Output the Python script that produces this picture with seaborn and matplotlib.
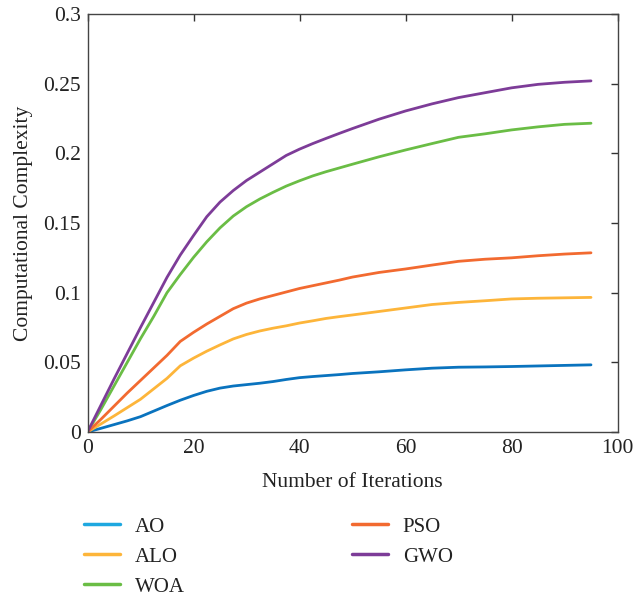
import numpy as np
import pandas as pd
import matplotlib
matplotlib.use("Agg")
import matplotlib.pyplot as plt
from matplotlib.ticker import FuncFormatter
import seaborn as sns

iterations = [0, 2.5, 5, 7.5, 10, 12.5, 15, 17.5, 20, 22.5, 25, 27.5, 30, 32.5, 35,
              37.5, 40, 42.5, 45, 47.5, 50, 55, 60, 65, 70, 75, 80, 85, 90, 95]

ao = [0, 0.0026, 0.0053, 0.008, 0.011, 0.015, 0.019, 0.0228, 0.0262, 0.0292,
      0.0315, 0.033, 0.034, 0.035, 0.0362, 0.0377, 0.039, 0.0398, 0.0405, 0.0412,
      0.042, 0.0432, 0.0446, 0.0458, 0.0465, 0.0467, 0.047, 0.0474, 0.0478, 0.0482]
alo = [0, 0.0057, 0.0115, 0.0175, 0.0235, 0.031, 0.0385, 0.0475, 0.053, 0.058,
       0.0625, 0.0668, 0.070, 0.0725, 0.0745, 0.0762, 0.0782, 0.0798, 0.0815, 0.0828,
       0.084, 0.0865, 0.089, 0.0915, 0.093, 0.0942, 0.0955, 0.096, 0.0963, 0.0966]
woa = [0, 0.016, 0.033, 0.050, 0.067, 0.083, 0.100, 0.113, 0.1253, 0.1365,
       0.1465, 0.155, 0.1617, 0.1672, 0.172, 0.1765, 0.1803, 0.1838, 0.1868, 0.1895,
       0.1922, 0.1975, 0.2024, 0.207, 0.2115, 0.214, 0.2168, 0.219, 0.2208, 0.2216]
pso = [0, 0.009, 0.0185, 0.028, 0.037, 0.046, 0.055, 0.065, 0.0715, 0.0775,
       0.083, 0.0885, 0.0925, 0.0955, 0.098, 0.1005, 0.103, 0.105, 0.107, 0.109,
       0.1112, 0.1145, 0.117, 0.1198, 0.1225, 0.124, 0.125, 0.1265, 0.1277, 0.1286]
gwo = [0, 0.019, 0.038, 0.0565, 0.075, 0.093, 0.111, 0.127, 0.141, 0.1545,
       0.165, 0.1733, 0.1805, 0.1865, 0.1925, 0.1985, 0.203, 0.207, 0.2107, 0.2143,
       0.2178, 0.2245, 0.2304, 0.2355, 0.240, 0.2435, 0.247, 0.2495, 0.251, 0.252]

algorithms = ["AO", "ALO", "WOA", "PSO", "GWO"]
series = [ao, alo, woa, pso, gwo]
colors = ["#0A73BE", "#FDB53A", "#6ABD45", "#F26A30", "#7D3C98"]
legend_colors = ["#1EA8E0", "#FDB53A", "#6ABD45", "#F26A30", "#7D3C98"]

df = pd.DataFrame({
    "Iteration": np.tile(iterations, len(algorithms)),
    "Complexity": np.concatenate(series),
    "Algorithm": np.repeat(algorithms, len(iterations)),
})

sns.set_style("white")
plt.rcParams["font.family"] = ["Liberation Serif", "DejaVu Serif"]

fig = plt.figure(figsize=(6.33, 5.97), dpi=100)
ax = fig.add_axes([87.5 / 633, 1 - 432 / 597, (617.5 - 87.5) / 633, (432 - 14) / 597])

sns.lineplot(data=df, x="Iteration", y="Complexity", hue="Algorithm",
             hue_order=algorithms, palette=colors, linewidth=2.0, ax=ax)
for ln in ax.get_lines():
    ln.set_solid_joinstyle("round")

ax.set_xlim(0, 100)
ax.set_ylim(0, 0.3)
ax.set_xticks([0, 20, 40, 60, 80, 100])
ax.set_yticks([0, 0.05, 0.1, 0.15, 0.2, 0.25, 0.3])
ax.yaxis.set_major_formatter(FuncFormatter(lambda v, p: f"{v:g}"))
ax.tick_params(direction="in", length=5, width=1, color="#333333",
               top=True, right=True, labelsize=15.5, labelcolor="#222222", pad=5)
for s in ax.spines.values():
    s.set_visible(True)
    s.set_color("#444444")
    s.set_linewidth(1.0)

ax.set_xlabel("Number of Iterations", fontsize=15.5, color="#222222", labelpad=11)
ax.set_ylabel("Computational Complexity", fontsize=15.5, color="#222222", labelpad=7)

ax.get_legend().remove()
handles, labels = ax.get_legend_handles_labels()
leg = fig.legend(handles, labels, loc="upper left", ncol=2, frameon=False,
                 bbox_to_anchor=(84 / 633, 1 - 517 / 597), fontsize=15,
                 handlelength=1.75, handletextpad=0.7, columnspacing=8.0,
                 labelspacing=0.5, borderpad=0.0, borderaxespad=0.0)
for line, c in zip(leg.get_lines(), legend_colors):
    line.set_color(c)
    line.set_linewidth(2.5)
for t in leg.get_texts():
    t.set_color("#222222")

fig.savefig("out.png", dpi=100)
